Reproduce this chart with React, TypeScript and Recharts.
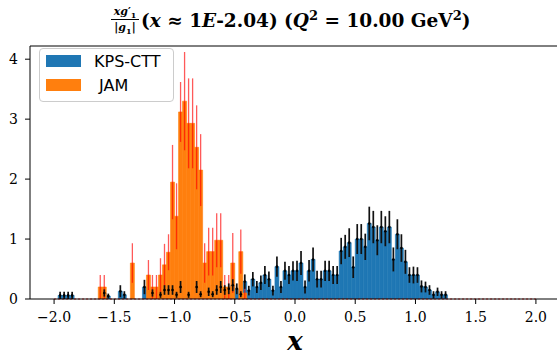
import React from 'react';
import { ComposedChart, Bar, Scatter, XAxis, YAxis, ErrorBar, ReferenceLine, Legend } from 'recharts';

// histogram bins: 120 bins of width 1/30 between -2 and 2
const binStart = -2;
const binWidth = 1 / 30;

const kpsValues = [
  0, 0.06, 0.06, 0.06, 0.06, 0, 0, 0, 0, 0,
  0, 0, 0.1, 0.05, 0, 0, 0.13, 0.07, 0, 0,
  0, 0, 0.2, 0, 0.1, 0, 0.07, 0.15, 0.15, 0.15,
  0.07, 0.2, 0, 0.07, 0, 0.2, 0.08, 0, 0.12, 0.08,
  0.15, 0.2, 0.15, 0.17, 0.23, 0.17, 0.08, 0.29, 0.14, 0.33,
  0.2, 0.27, 0.4, 0.33, 0.14, 0.54, 0.2, 0.47, 0.4, 0.47,
  0.47, 0.6, 0.2, 0.47, 0.66, 0.33, 0.33, 0.47, 0.47, 0.4,
  0.4, 0.8, 0.87, 0.94, 0.53, 1.0, 1.0, 0.87, 1.26, 1.2,
  0.98, 1.2, 1.13, 1.2, 0.66, 1.08, 0.85, 0.62, 0.4, 0.4,
  0.4, 0.21, 0.2, 0.15, 0.07, 0.12, 0.07, 0.07, 0, 0,
  0, 0, 0, 0, 0, 0, 0, 0, 0, 0,
  0, 0, 0, 0, 0, 0, 0, 0, 0, 0,
];

const kpsErrors = [
  0, 0.06, 0.06, 0.06, 0.06, 0, 0, 0, 0, 0,
  0, 0, 0.06, 0.04, 0, 0, 0.1, 0.06, 0, 0,
  0, 0, 0.12, 0, 0.06, 0, 0.05, 0.08, 0.08, 0.08,
  0.05, 0.1, 0, 0.05, 0, 0.1, 0.05, 0, 0.07, 0.05,
  0.08, 0.1, 0.08, 0.09, 0.1, 0.09, 0.05, 0.12, 0.08, 0.12,
  0.1, 0.12, 0.15, 0.13, 0.08, 0.17, 0.1, 0.15, 0.15, 0.16,
  0.17, 0.2, 0.11, 0.18, 0.2, 0.14, 0.14, 0.17, 0.17, 0.15,
  0.15, 0.22, 0.2, 0.24, 0.18, 0.25, 0.25, 0.22, 0.28, 0.27,
  0.25, 0.27, 0.25, 0.27, 0.2, 0.25, 0.23, 0.2, 0.13, 0.14,
  0.13, 0.1, 0.09, 0.08, 0.06, 0.07, 0.06, 0.06, 0, 0,
  0, 0, 0, 0, 0, 0, 0, 0, 0, 0,
  0, 0, 0, 0, 0, 0, 0, 0, 0, 0,
];

const jamValues = [
  0, 0, 0, 0, 0, 0, 0, 0, 0, 0,
  0, 0.2, 0.2, 0, 0, 0, 0, 0, 0, 0.6,
  0, 0, 0, 0.4, 0.2, 0.2, 0.4, 0.57, 0.78, 1.95,
  1.38, 3.12, 3.3, 2.93, 2.93, 2.53, 2.15, 0.6, 0.79, 0.79,
  0.98, 0.98, 0.2, 0.2, 0.6, 0, 0.79, 0.1, 0, 0,
  0, 0, 0, 0, 0, 0, 0, 0, 0, 0,
  0, 0, 0, 0, 0, 0, 0, 0, 0, 0,
  0, 0, 0, 0, 0, 0, 0, 0, 0, 0,
  0, 0, 0, 0, 0, 0, 0, 0, 0, 0,
  0, 0, 0, 0, 0, 0, 0, 0, 0, 0,
  0, 0, 0, 0, 0, 0, 0, 0, 0, 0,
  0, 0, 0, 0, 0, 0, 0, 0, 0, 0,
];

const jamErrors = [
  0, 0, 0, 0, 0, 0, 0, 0, 0, 0,
  0, 0.2, 0.2, 0, 0, 0, 0, 0, 0, 0.33,
  0, 0, 0, 0.25, 0.2, 0.2, 0.28, 0.35, 0.3, 0.62,
  0.55, 0.5, 0.82, 0.75, 0.75, 0.7, 0.6, 0.33, 0.4, 0.4,
  0.45, 0.45, 0.2, 0.2, 0.5, 0, 0.37, 0.1, 0, 0,
  0, 0, 0, 0, 0, 0, 0, 0, 0, 0,
  0, 0, 0, 0, 0, 0, 0, 0, 0, 0,
  0, 0, 0, 0, 0, 0, 0, 0, 0, 0,
  0, 0, 0, 0, 0, 0, 0, 0, 0, 0,
  0, 0, 0, 0, 0, 0, 0, 0, 0, 0,
  0, 0, 0, 0, 0, 0, 0, 0, 0, 0,
  0, 0, 0, 0, 0, 0, 0, 0, 0, 0,
];

const xTicks = [-2, -1.5, -1, -0.5, 0, 0.5, 1, 1.5, 2];
const yTicks = [0, 1, 2, 3, 4];
const yMax = 4.22;

const BLUE = '#1f77b4';
const ORANGE = '#ff7f0e';
const SERIF = 'DejaVu Serif';
const SANS = 'DejaVu Sans';

const bins = kpsValues.map((kps, i) => ({
  x: binStart + (i + 0.5) * binWidth,
  kps,
  kpsErr: kpsErrors[i],
  jam: jamValues[i],
  jamErr: jamErrors[i],
}));
const kpsPoints = bins.filter(b => b.kps > 0);

const fmtTick = (v: number) => v.toFixed(1).replace('-', '\u2212');

const legendItems = [
  { label: 'KPS-CTT', color: BLUE },
  { label: ' JAM', color: ORANGE },
];

const renderLegend = () => (
  <div
    style={{
      border: '1px solid #cccccc',
      borderRadius: 4,
      background: 'rgba(255,255,255,0.8)',
      padding: '0 8px 4px 6px',
      width: 135,
      boxSizing: 'border-box',
    }}
  >
    {legendItems.map(item => (
      <div key={item.label} style={{ display: 'flex', alignItems: 'center', height: 24 }}>
        <span style={{ display: 'inline-block', width: 35, height: 12, background: item.color, marginRight: 13 }} />
        <span style={{ whiteSpace: 'pre', fontFamily: SANS, fontSize: 16, color: '#000' }}>{item.label}</span>
      </div>
    ))}
  </div>
);

const Title = () => (
  <svg width={557} height={44} style={{ position: 'absolute', left: 0, top: 0 }}>
    <g fontFamily={SERIF} fontWeight="bold" fill="#000">
      <text x={125} y={15} textAnchor="middle" fontSize={11}>
        <tspan fontStyle="italic">xg</tspan>
        <tspan>′</tspan>
        <tspan fontSize={8} dy={3}>1</tspan>
      </text>
      <line x1={111} x2={139} y1={19.5} y2={19.5} stroke="#000" strokeWidth={1} />
      <text x={125} y={31} textAnchor="middle" fontSize={11}>
        <tspan>|</tspan>
        <tspan fontStyle="italic">g</tspan>
        <tspan fontSize={8} dy={3}>1</tspan>
        <tspan dy={-3}>|</tspan>
      </text>
      <text x={141} y={27} fontSize={18.5}>
        <tspan>(</tspan>
        <tspan fontStyle="italic">x</tspan>
        <tspan> ≈ 1</tspan>
        <tspan fontStyle="italic">E</tspan>
        <tspan>-2.04) (</tspan>
        <tspan fontStyle="italic">Q</tspan>
        <tspan fontSize={13} dy={-7}>2</tspan>
        <tspan dy={7}> = 10.00 GeV</tspan>
        <tspan fontSize={13} dy={-7}>2</tspan>
        <tspan dy={7}>)</tspan>
      </text>
    </g>
  </svg>
);

export default function App() {
  return (
    <div style={{ position: 'absolute', left: 0, top: 0, width: 557, height: 358, overflow: 'hidden', background: '#fff' }}>
      <ComposedChart
        width={570}
        height={358}
        data={bins}
        margin={{ top: 46, right: 10, bottom: 0, left: 0 }}
        barCategoryGap={0}
        barGap={0}
      >
        <XAxis
          xAxisId="main"
          type="number"
          dataKey="x"
          domain={[-2.2, 2.2]}
          ticks={xTicks}
          tickFormatter={fmtTick}
          allowDataOverflow
          height={59}
          tickSize={5}
          tickMargin={8}
          stroke="#000"
          tick={{ fill: '#000', fontSize: 14, fontFamily: SERIF }}
          label={{
            value: 'x',
            position: 'insideBottom',
            offset: 8,
            style: { fontSize: 26, fontWeight: 'bold', fontStyle: 'italic', fontFamily: SERIF, fill: '#000' },
          }}
        />
        <XAxis xAxisId="over" type="number" dataKey="x" domain={[-2.2, 2.2]} allowDataOverflow hide />
        <YAxis
          yAxisId="main"
          type="number"
          domain={[0, yMax]}
          ticks={yTicks}
          allowDataOverflow
          width={30}
          tickSize={5}
          tickMargin={7}
          stroke="#000"
          tick={{ fill: '#000', fontSize: 14, fontFamily: SERIF }}
        />
        <YAxis yAxisId="over" type="number" domain={[0, yMax]} allowDataOverflow hide />
        <Legend layout="vertical" align="center" verticalAlign="middle" content={renderLegend} wrapperStyle={{ left: 39, top: 48, width: 'auto', height: 'auto' }} />
        <Bar xAxisId="main" yAxisId="main" dataKey="kps" name="KPS-CTT" fill={BLUE} stroke={BLUE} strokeWidth={0.6} isAnimationActive={false} />
        <Bar xAxisId="over" yAxisId="over" dataKey="jam" name="JAM" fill={ORANGE} stroke={ORANGE} strokeWidth={0.6} isAnimationActive={false}>
          <ErrorBar dataKey="jamErr" width={0} stroke="#ff0000" strokeOpacity={0.65} strokeWidth={1.3} isAnimationActive={false} />
        </Bar>
        <ReferenceLine
          xAxisId="main"
          yAxisId="main"
          segment={[{ x: -2, y: 0 }, { x: 2, y: 0 }]}
          stroke="#e03030"
          strokeDasharray="2 2"
          strokeWidth={1}
          ifOverflow="visible"
        />
        <ReferenceLine xAxisId="main" yAxisId="main" y={yMax} stroke="#000" strokeWidth={1} ifOverflow="visible" />
        <Scatter
          xAxisId="main"
          yAxisId="main"
          data={kpsPoints}
          dataKey="kps"
          isAnimationActive={false}
          legendType="none"
          shape={(p: any) => <circle cx={p.cx} cy={p.cy} r={1.3} fill="#000" />}
        >
          <ErrorBar dataKey="kpsErr" direction="y" width={0} stroke="#111" strokeWidth={1.7} isAnimationActive={false} />
        </Scatter>
      </ComposedChart>
      <Title />
    </div>
  );
}
